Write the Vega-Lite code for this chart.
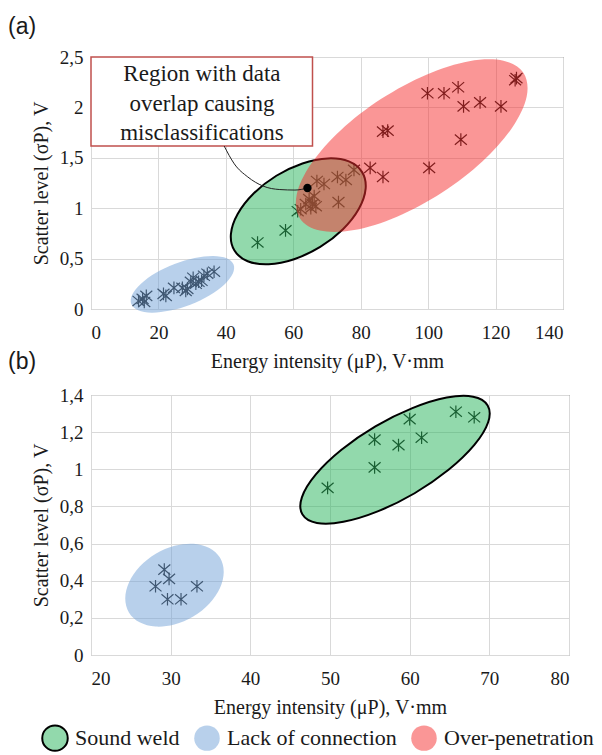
{
  "$schema": "https://vega.github.io/schema/vega-lite/v6.json",
  "background": "white",
  "padding": {"left": 7, "top": 15, "right": 5, "bottom": 0},
  "bounds": "flush",
  "spacing": 86,
  "config": {
    "font": "Liberation Serif, DejaVu Serif, serif",
    "view": {"stroke": "#595959", "strokeWidth": 1},
    "axis": {
      "gridColor": "#d9d9d9",
      "domainColor": "#d9d9d9",
      "tickSize": 0,
      "labelFont": "Liberation Serif, DejaVu Serif, serif",
      "titleFont": "Liberation Serif, DejaVu Serif, serif",
      "labelFontSize": 19,
      "titleFontSize": 20,
      "titleFontWeight": "normal",
      "labelColor": "#1a1a1a",
      "titleColor": "#1a1a1a",
      "labelExpr": "replace(format(datum.value, '~g'), '.', ',')"
    },
    "axisX": {"labelPadding": 14, "titlePadding": 9},
    "axisY": {"labelPadding": 8, "titlePadding": 8},
    "title": {"font": "Liberation Sans, DejaVu Sans, sans-serif", "fontSize": 23, "fontWeight": "normal", "color": "#1a1a1a", "anchor": "start", "frame": "group"}
  },
  "datasets": {
    "pts_a": [
      {"x": 14.1, "y": 0.08}, {"x": 15.3, "y": 0.10}, {"x": 16.4, "y": 0.13}, {"x": 15.8, "y": 0.07},
      {"x": 21.5, "y": 0.15}, {"x": 22.2, "y": 0.13}, {"x": 24.6, "y": 0.21}, {"x": 27.1, "y": 0.21},
      {"x": 28.1, "y": 0.18}, {"x": 28.6, "y": 0.20}, {"x": 29.6, "y": 0.27}, {"x": 30.3, "y": 0.31},
      {"x": 31.1, "y": 0.25}, {"x": 31.9, "y": 0.27}, {"x": 32.8, "y": 0.28}, {"x": 33.5, "y": 0.33},
      {"x": 34.5, "y": 0.35}, {"x": 36.5, "y": 0.37},
      {"x": 49.4, "y": 0.66}, {"x": 57.7, "y": 0.78}, {"x": 61.3, "y": 0.97},
      {"x": 62.2, "y": 0.99}, {"x": 63.7, "y": 1.04}, {"x": 64.7, "y": 1.09}, {"x": 65.7, "y": 1.04},
      {"x": 66.2, "y": 1.12}, {"x": 66.7, "y": 1.02}, {"x": 65.2, "y": 1.00}, {"x": 67.0, "y": 1.27},
      {"x": 69.1, "y": 1.24}, {"x": 73.1, "y": 1.31}, {"x": 75.6, "y": 1.28}, {"x": 78.0, "y": 1.38},
      {"x": 73.4, "y": 1.06},
      {"x": 82.8, "y": 1.40}, {"x": 86.6, "y": 1.31}, {"x": 86.6, "y": 1.76}, {"x": 88.0, "y": 1.77},
      {"x": 100.3, "y": 1.40}, {"x": 109.7, "y": 1.68}, {"x": 99.8, "y": 2.14}, {"x": 104.7, "y": 2.14},
      {"x": 108.9, "y": 2.20}, {"x": 110.5, "y": 2.01}, {"x": 115.4, "y": 2.05}, {"x": 121.6, "y": 2.01},
      {"x": 125.8, "y": 2.27}, {"x": 126.2, "y": 2.29}
    ],
    "pts_b": [
      {"x": 49.7, "y": 0.90}, {"x": 55.6, "y": 1.01}, {"x": 55.6, "y": 1.16}, {"x": 58.6, "y": 1.13},
      {"x": 60.0, "y": 1.27}, {"x": 61.5, "y": 1.17}, {"x": 65.8, "y": 1.31}, {"x": 68.1, "y": 1.28},
      {"x": 29.2, "y": 0.46}, {"x": 29.8, "y": 0.41}, {"x": 28.1, "y": 0.37}, {"x": 29.6, "y": 0.30},
      {"x": 31.3, "y": 0.30}, {"x": 33.3, "y": 0.37}
    ],
    "ell_a": [
      {"c": "Lack of connection", "k": 0, "x": 42.29, "y": 0.441},
      {"c": "Lack of connection", "k": 1, "x": 40.24, "y": 0.503},
      {"c": "Lack of connection", "k": 2, "x": 36.20, "y": 0.526},
      {"c": "Lack of connection", "k": 3, "x": 30.77, "y": 0.506},
      {"c": "Lack of connection", "k": 4, "x": 24.79, "y": 0.447},
      {"c": "Lack of connection", "k": 5, "x": 19.16, "y": 0.357},
      {"c": "Lack of connection", "k": 6, "x": 14.75, "y": 0.249},
      {"c": "Lack of connection", "k": 7, "x": 12.21, "y": 0.142},
      {"c": "Lack of connection", "k": 8, "x": 11.95, "y": 0.049},
      {"c": "Lack of connection", "k": 9, "x": 14.00, "y": -0.013},
      {"c": "Lack of connection", "k": 10, "x": 18.04, "y": -0.036},
      {"c": "Lack of connection", "k": 11, "x": 23.47, "y": -0.016},
      {"c": "Lack of connection", "k": 12, "x": 29.45, "y": 0.043},
      {"c": "Lack of connection", "k": 13, "x": 35.08, "y": 0.134},
      {"c": "Lack of connection", "k": 14, "x": 39.50, "y": 0.241},
      {"c": "Lack of connection", "k": 15, "x": 42.03, "y": 0.349},
      {"c": "Sound weld", "k": 0, "x": 80.41, "y": 1.358},
      {"c": "Sound weld", "k": 1, "x": 76.48, "y": 1.464},
      {"c": "Sound weld", "k": 2, "x": 70.27, "y": 1.494},
      {"c": "Sound weld", "k": 3, "x": 62.72, "y": 1.444},
      {"c": "Sound weld", "k": 4, "x": 54.98, "y": 1.322},
      {"c": "Sound weld", "k": 5, "x": 48.23, "y": 1.146},
      {"c": "Sound weld", "k": 6, "x": 43.50, "y": 0.943},
      {"c": "Sound weld", "k": 7, "x": 41.50, "y": 0.744},
      {"c": "Sound weld", "k": 8, "x": 42.55, "y": 0.580},
      {"c": "Sound weld", "k": 9, "x": 46.48, "y": 0.474},
      {"c": "Sound weld", "k": 10, "x": 52.69, "y": 0.444},
      {"c": "Sound weld", "k": 11, "x": 60.24, "y": 0.494},
      {"c": "Sound weld", "k": 12, "x": 67.98, "y": 0.616},
      {"c": "Sound weld", "k": 13, "x": 74.73, "y": 0.792},
      {"c": "Sound weld", "k": 14, "x": 79.46, "y": 0.995},
      {"c": "Sound weld", "k": 15, "x": 81.46, "y": 1.194},
      {"c": "Over-penetration", "k": 0, "x": 128.30, "y": 2.341},
      {"c": "Over-penetration", "k": 1, "x": 122.32, "y": 2.463},
      {"c": "Over-penetration", "k": 2, "x": 112.20, "y": 2.458},
      {"c": "Over-penetration", "k": 3, "x": 99.48, "y": 2.325},
      {"c": "Over-penetration", "k": 4, "x": 86.10, "y": 2.085},
      {"c": "Over-penetration", "k": 5, "x": 74.09, "y": 1.774},
      {"c": "Over-penetration", "k": 6, "x": 65.28, "y": 1.440},
      {"c": "Over-penetration", "k": 7, "x": 61.01, "y": 1.133},
      {"c": "Over-penetration", "k": 8, "x": 61.94, "y": 0.901},
      {"c": "Over-penetration", "k": 9, "x": 67.92, "y": 0.778},
      {"c": "Over-penetration", "k": 10, "x": 78.04, "y": 0.783},
      {"c": "Over-penetration", "k": 11, "x": 90.76, "y": 0.916},
      {"c": "Over-penetration", "k": 12, "x": 104.14, "y": 1.156},
      {"c": "Over-penetration", "k": 13, "x": 116.15, "y": 1.467},
      {"c": "Over-penetration", "k": 14, "x": 124.96, "y": 1.801},
      {"c": "Over-penetration", "k": 15, "x": 129.23, "y": 2.108}
    ],
    "ell_b": [
      {"c": "Lack of connection", "k": 0, "x": 36.20, "y": 0.523},
      {"c": "Lack of connection", "k": 1, "x": 34.86, "y": 0.576},
      {"c": "Lack of connection", "k": 2, "x": 32.86, "y": 0.599},
      {"c": "Lack of connection", "k": 3, "x": 30.50, "y": 0.588},
      {"c": "Lack of connection", "k": 4, "x": 28.13, "y": 0.545},
      {"c": "Lack of connection", "k": 5, "x": 26.12, "y": 0.476},
      {"c": "Lack of connection", "k": 6, "x": 24.77, "y": 0.391},
      {"c": "Lack of connection", "k": 7, "x": 24.30, "y": 0.305},
      {"c": "Lack of connection", "k": 8, "x": 24.76, "y": 0.229},
      {"c": "Lack of connection", "k": 9, "x": 26.10, "y": 0.176},
      {"c": "Lack of connection", "k": 10, "x": 28.10, "y": 0.153},
      {"c": "Lack of connection", "k": 11, "x": 30.46, "y": 0.164},
      {"c": "Lack of connection", "k": 12, "x": 32.83, "y": 0.207},
      {"c": "Lack of connection", "k": 13, "x": 34.84, "y": 0.276},
      {"c": "Lack of connection", "k": 14, "x": 36.19, "y": 0.361},
      {"c": "Lack of connection", "k": 15, "x": 36.66, "y": 0.447},
      {"c": "Sound weld", "k": 0, "x": 69.79, "y": 1.344},
      {"c": "Sound weld", "k": 1, "x": 67.96, "y": 1.391},
      {"c": "Sound weld", "k": 2, "x": 64.65, "y": 1.386},
      {"c": "Sound weld", "k": 3, "x": 60.34, "y": 1.329},
      {"c": "Sound weld", "k": 4, "x": 55.70, "y": 1.231},
      {"c": "Sound weld", "k": 5, "x": 51.44, "y": 1.105},
      {"c": "Sound weld", "k": 6, "x": 48.20, "y": 0.971},
      {"c": "Sound weld", "k": 7, "x": 46.47, "y": 0.849},
      {"c": "Sound weld", "k": 8, "x": 46.53, "y": 0.758},
      {"c": "Sound weld", "k": 9, "x": 48.36, "y": 0.711},
      {"c": "Sound weld", "k": 10, "x": 51.68, "y": 0.717},
      {"c": "Sound weld", "k": 11, "x": 55.98, "y": 0.773},
      {"c": "Sound weld", "k": 12, "x": 60.62, "y": 0.871},
      {"c": "Sound weld", "k": 13, "x": 64.88, "y": 0.997},
      {"c": "Sound weld", "k": 14, "x": 68.12, "y": 1.131},
      {"c": "Sound weld", "k": 15, "x": 69.85, "y": 1.253}
    ],
    "box": [{"x": 0, "x2": 65.7, "y": 1.617, "y2": 2.5}],
    "boxtext": [
      {"x": 32.9, "y": 2.33, "t": "Region with data"},
      {"x": 32.9, "y": 2.03, "t": "overlap causing"},
      {"x": 32.9, "y": 1.745, "t": "misclassifications"}
    ],
    "curve": [
      {"x": 39.5, "y": 1.617}, {"x": 42.5, "y": 1.44}, {"x": 46.5, "y": 1.31}, {"x": 51.0, "y": 1.22},
      {"x": 56.0, "y": 1.185}, {"x": 60.5, "y": 1.18}, {"x": 64.2, "y": 1.20}
    ],
    "dot": [{"x": 64.2, "y": 1.20}]
  },
  "resolve": {
    "scale": {"x": "independent", "y": "independent", "fill": "shared", "stroke": "shared"},
    "legend": {"fill": "shared", "stroke": "shared"}
  },
  "vconcat": [
    {
      "title": {"text": "(a)", "dx": -83, "offset": 9},
      "width": 472,
      "height": 252,
      "encoding": {
        "x": {"field": "x", "type": "quantitative", "scale": {"domain": [0, 140], "nice": false},
              "axis": {"values": [0, 20, 40, 60, 80, 100, 120, 140], "title": "Energy intensity (μP), V·mm"}},
        "y": {"field": "y", "type": "quantitative", "scale": {"domain": [0, 2.5], "nice": false},
              "axis": {"values": [0, 0.5, 1, 1.5, 2, 2.5], "title": "Scatter level (σP), V"}}
      },
      "layer": [
        {
          "data": {"name": "pts_a"},
          "mark": {"type": "point", "shape": "M-1,-0.85L1,0.85M-1,0.85L1,-0.85M0,-1.05L0,1.05", "size": 144, "filled": false, "stroke": "#0d0d0d", "strokeWidth": 1.2, "opacity": 1}
        },
        {
          "data": {"name": "ell_a"},
          "transform": [{"filter": "datum.c === 'Lack of connection'"}],
          "mark": {"type": "line", "interpolate": "cardinal-closed", "fillOpacity": 0.5, "strokeWidth": 2},
          "encoding": {
            "order": {"field": "k", "type": "quantitative"},
            "fill": {"field": "c", "type": "nominal", "scale": {"domain": ["Sound weld", "Lack of connection", "Over-penetration"], "range": ["#25b359", "#71a1d7", "#f52d2d"]},
                     "legend": {"title": null, "orient": "none", "legendX": -50, "legendY": 667, "direction": "horizontal", "symbolType": "circle", "symbolSize": 650, "labelFontSize": 22, "labelFont": "Liberation Serif, DejaVu Serif, serif", "labelColor": "#1a1a1a", "labelLimit": 400, "columnPadding": 10, "labelOffset": 6,
                                "encode": {"symbols": {"update": {"fillOpacity": {"value": 0.5}, "strokeWidth": {"value": 2}}}}}},
            "stroke": {"field": "c", "type": "nominal", "scale": {"domain": ["Sound weld", "Lack of connection", "Over-penetration"], "range": ["#000000", "transparent", "transparent"]},
                       "legend": {"title": null, "orient": "none", "legendX": -50, "legendY": 667, "direction": "horizontal", "symbolType": "circle", "symbolSize": 650, "labelFontSize": 22, "labelFont": "Liberation Serif, DejaVu Serif, serif", "labelColor": "#1a1a1a", "labelLimit": 400, "columnPadding": 10, "labelOffset": 6,
                                  "encode": {"symbols": {"update": {"fillOpacity": {"value": 0.5}, "strokeWidth": {"value": 2}}}}}}
          }
        },
        {
          "data": {"name": "ell_a"},
          "transform": [{"filter": "datum.c === 'Sound weld'"}],
          "mark": {"type": "line", "interpolate": "cardinal-closed", "fillOpacity": 0.5, "strokeWidth": 2},
          "encoding": {
            "order": {"field": "k", "type": "quantitative"},
            "fill": {"field": "c", "type": "nominal"},
            "stroke": {"field": "c", "type": "nominal"}
          }
        },
        {
          "data": {"name": "ell_a"},
          "transform": [{"filter": "datum.c === 'Over-penetration'"}],
          "mark": {"type": "line", "interpolate": "cardinal-closed", "fillOpacity": 0.5, "strokeWidth": 2},
          "encoding": {
            "order": {"field": "k", "type": "quantitative"},
            "fill": {"field": "c", "type": "nominal"},
            "stroke": {"field": "c", "type": "nominal"}
          }
        },
        {
          "data": {"name": "box"},
          "mark": {"type": "rect", "fill": "white", "stroke": "#c0504d", "strokeWidth": 1.5},
          "encoding": {
            "x2": {"field": "x2"},
            "y2": {"field": "y2"}
          }
        },
        {
          "data": {"name": "boxtext"},
          "mark": {"type": "text", "font": "Liberation Serif, DejaVu Serif, serif", "fontSize": 23, "color": "#1a1a1a", "align": "center", "baseline": "middle"},
          "encoding": {"text": {"field": "t"}}
        },
        {
          "data": {"name": "curve"},
          "mark": {"type": "line", "interpolate": "monotone", "color": "#222222", "strokeWidth": 1},
          "encoding": {}
        },
        {
          "data": {"name": "dot"},
          "mark": {"type": "point", "shape": "circle", "filled": true, "color": "#000000", "size": 70, "opacity": 1}
        }
      ]
    },
    {
      "title": {"text": "(b)", "dx": -83, "offset": 12},
      "width": 478,
      "height": 260,
      "encoding": {
        "x": {"field": "x", "type": "quantitative", "scale": {"domain": [20, 80], "nice": false},
              "axis": {"values": [20, 30, 40, 50, 60, 70, 80], "title": "Energy intensity (μP), V·mm"}},
        "y": {"field": "y", "type": "quantitative", "scale": {"domain": [0, 1.4], "nice": false},
              "axis": {"values": [0, 0.2, 0.4, 0.6, 0.8, 1, 1.2, 1.4], "title": "Scatter level (σP), V"}}
      },
      "layer": [
        {
          "data": {"name": "pts_b"},
          "mark": {"type": "point", "shape": "M-1,-0.85L1,0.85M-1,0.85L1,-0.85M0,-1.05L0,1.05", "size": 144, "filled": false, "stroke": "#0d0d0d", "strokeWidth": 1.2, "opacity": 1}
        },
        {
          "data": {"name": "ell_b"},
          "transform": [{"filter": "datum.c === 'Lack of connection'"}],
          "mark": {"type": "line", "interpolate": "cardinal-closed", "fillOpacity": 0.5, "strokeWidth": 2},
          "encoding": {
            "order": {"field": "k", "type": "quantitative"},
            "fill": {"field": "c", "type": "nominal"},
            "stroke": {"field": "c", "type": "nominal"}
          }
        },
        {
          "data": {"name": "ell_b"},
          "transform": [{"filter": "datum.c === 'Sound weld'"}],
          "mark": {"type": "line", "interpolate": "cardinal-closed", "fillOpacity": 0.5, "strokeWidth": 2},
          "encoding": {
            "order": {"field": "k", "type": "quantitative"},
            "fill": {"field": "c", "type": "nominal"},
            "stroke": {"field": "c", "type": "nominal"}
          }
        }
      ]
    }
  ]
}
